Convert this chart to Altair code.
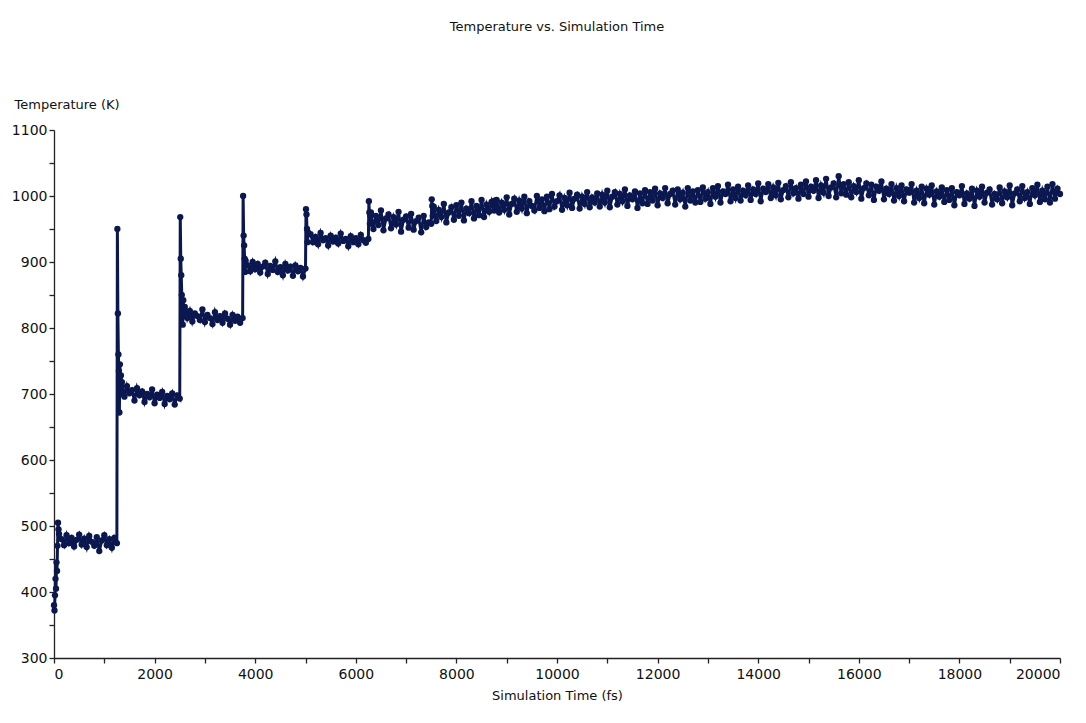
import altair as alt
import pandas as pd

# ---- data (time in fs, temperature in K) ----
seg1_t = [0, 10, 20, 30, 40, 50, 60, 70, 80, 90, 100] + list(range(150, 1251, 50))
seg1_T = [380, 372, 395, 420, 405, 445, 432, 470, 505, 495, 488,
          480, 471, 486, 474, 482, 469, 479, 487, 472, 481, 468, 485, 476, 470,
          483, 462, 478, 486, 471, 480, 467, 482, 474]

seg2_t = [1260, 1270, 1280, 1290, 1300, 1310, 1320, 1330] + list(range(1350, 2501, 50))
seg2_T = [950, 822, 760, 735, 672, 745, 700, 728,
          718, 696, 712, 701, 706, 690, 709, 698, 704, 688, 700, 695, 707, 686,
          699, 694, 703, 685, 697, 692, 701, 684, 698, 693]

seg3_t = [2510, 2520, 2530, 2540, 2550, 2560, 2570, 2580] + list(range(2600, 3751, 50))
seg3_T = [968, 905, 880, 850, 830, 805, 842, 818,
          832, 815, 826, 810, 822, 818, 812, 828, 809, 820, 815, 806, 824, 812,
          818, 808, 822, 814, 805, 820, 811, 817, 808, 815]

seg4_t = [3760, 3770, 3780, 3790, 3800, 3810] + list(range(3850, 5001, 50))
seg4_T = [1000, 940, 925, 905, 885, 902,
          895, 886, 900, 889, 897, 884, 893, 899, 882, 894, 888, 901, 885, 892,
          880, 897, 887, 893, 879, 895, 886, 891, 878, 890]

seg5_t = [5010, 5020, 5030, 5040, 5050] + list(range(5100, 6251, 50))
seg5_T = [980, 972, 950, 930, 945,
          942, 930, 938, 927, 944, 933, 936, 925, 940, 931, 937, 928, 943, 932,
          935, 924, 939, 930, 936, 927, 941, 933, 929, 935]

seg6_t = [6260, 6270, 6280, 6290] + list(range(6300, 7501, 50))
seg6_T = [992, 975, 958, 970,
          975, 950, 970, 956, 978, 948, 966, 972, 951, 968, 957, 976, 946, 964,
          969, 952, 973, 949, 962, 967, 945, 970, 953, 960, 958]

seg7_t = [7510, 7520, 7530] + list(range(7550, 8751, 50))
seg7_T = [995, 985, 970,
          984, 962, 979, 968, 988, 960, 975, 983, 964, 986, 970, 990, 963, 981,
          974, 992, 966, 985, 971, 994, 968, 987, 976, 991, 978]

seg8_t = [8760, 8770] + list(range(8800, 20001, 50))
seg8_T = [993, 983,
          994, 975, 990, 979, 998, 972, 988, 996, 976, 993, 981, 999, 974, 992, 985, 978, 1000, 982, 995, 977,
          999, 980, 1003, 984, 992, 1001, 979, 997, 986, 1005, 982, 996, 1002, 981, 999, 988, 1006, 983, 998, 990,
          1004, 984, 1002, 990, 1008, 983, 999, 1006, 987, 1003, 992, 1010, 985, 1001, 995, 1007, 982, 1004, 989, 1009,
          988, 1006, 993, 1011, 986, 1004, 997, 1012, 989, 1003, 1008, 987, 1010, 995, 1005, 984, 1012, 993, 1007, 990,
          1009, 991, 1013, 996, 1006, 988, 1012, 999, 1015, 990, 1007, 1003, 1017, 992, 1010, 997, 1014, 993, 1008, 1001,
          1016, 994, 1010, 1003, 1019, 992, 1011, 1006, 1018, 997, 1013, 1001, 1020, 995, 1009, 1015, 998, 1021, 1004, 1012,
          996, 1017, 1003, 1022, 999, 1014, 1008, 1024, 997, 1016, 1005, 1026, 1000, 1013, 1019, 998, 1030, 1004, 1018, 1002,
          1021, 998, 1015, 1006, 1024, 996, 1012, 1019, 1001, 1017, 994, 1014, 1008, 1022, 995, 1011, 1003, 1018, 993, 1012,
          1000, 1016, 992, 1010, 1005, 1018, 990, 1008, 997, 1014, 989, 1011, 1002, 1016, 987, 1007, 999, 1013, 991, 1009,
          994, 1012, 986, 1006, 1001, 1015, 988, 1004, 996, 1011, 985, 1008, 999, 1014, 990, 1005, 1010, 987, 1003, 995,
          1013, 989, 1007, 998, 1016, 986, 1004, 1010, 992, 1015, 997, 1006, 988, 1012, 1001, 1017, 991, 1008, 995, 1014,
          990, 1018, 996, 1011, 1003]

x_ticks = list(range(0, 20001, 1000))
y_ticks = list(range(300, 1101, 50))

times = seg1_t + seg2_t + seg3_t + seg4_t + seg5_t + seg6_t + seg7_t + seg8_t
temps = seg1_T + seg2_T + seg3_T + seg4_T + seg5_T + seg6_T + seg7_T + seg8_T
df = pd.DataFrame({"time": times, "temp": temps})

NAVY = "#0b1850"
FONT = "DejaVu Sans"

chart = alt.Chart(df).mark_line(
    color=NAVY, strokeWidth=3,
    point=alt.OverlayMarkDef(color=NAVY, size=40, filled=True, opacity=1),
).encode(
    x=alt.X("time:Q", scale=alt.Scale(domain=[0, 20000], nice=False),
            axis=alt.Axis(values=x_ticks, title="Simulation Time (fs)",
                          labelExpr="datum.value % 2000 == 0 ? datum.label : ''",
                          format="d", grid=False, tickSize=5, labelPadding=4,
                          titlePadding=8)),
    y=alt.Y("temp:Q", scale=alt.Scale(domain=[300, 1100], nice=False),
            axis=alt.Axis(values=y_ticks, title="Temperature (K)",
                          labelExpr="datum.value % 100 == 0 ? datum.label : ''",
                          format="d", grid=False, tickSize=5, labelPadding=2,
                          titleAngle=0, titleAlign="left", titleBaseline="alphabetic",
                          titleX=-40, titleY=-22)),
    order="time:Q",
).properties(
    width=1006, height=528,
    autosize=alt.AutoSizeParams(type="none"),
    padding={"left": 54, "top": 130, "right": 26, "bottom": 65},
    title=alt.Title("Temperature vs. Simulation Time", anchor="middle",
                    fontSize=13, fontWeight="normal", font=FONT, color="#111",
                    offset=64),
    background="white",
).configure_axis(
    labelFont=FONT, titleFont=FONT, labelFontSize=14, titleFontSize=13,
    titleFontWeight="normal", labelColor="#111", titleColor="#111",
    domainColor="#222", tickColor="#222", domainWidth=1.3, tickWidth=1.3,
).configure_view(stroke=None)

chart.save("out.html", embed_options={"renderer": "svg", "actions": False})
